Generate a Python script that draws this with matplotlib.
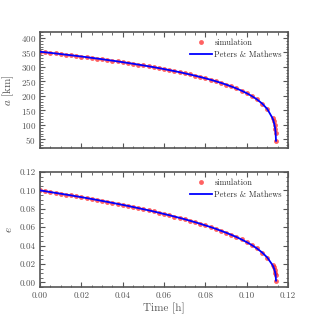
import numpy as np
import matplotlib
matplotlib.use("Agg")
import matplotlib.pyplot as plt
from matplotlib.ticker import MultipleLocator, AutoMinorLocator, FormatStrFormatter

# time [h] and orbital elements
time_h = [0.0, 0.0025, 0.005, 0.0075, 0.01, 0.0125, 0.015, 0.0175, 0.02, 0.0225,
          0.025, 0.0275, 0.03, 0.0325, 0.035, 0.0375, 0.04, 0.0425, 0.045, 0.0475,
          0.05, 0.0525, 0.055, 0.0575, 0.06, 0.0625, 0.065, 0.0675, 0.07, 0.0725,
          0.075, 0.0775, 0.08, 0.0825, 0.085, 0.0875, 0.09, 0.0925, 0.095, 0.0975,
          0.1, 0.1025, 0.105, 0.1075, 0.11, 0.1125, 0.113, 0.1135, 0.1138, 0.114, 0.1142]
a_km = [352.0, 350.1, 348.1, 346.1, 344.0, 341.9, 339.8, 337.7, 335.5, 333.2,
        330.9, 328.6, 326.2, 323.7, 321.2, 318.7, 316.0, 313.3, 310.6, 307.7,
        304.8, 301.8, 298.7, 295.5, 292.2, 288.7, 285.2, 281.5, 277.6, 273.6,
        269.4, 265.0, 260.4, 255.5, 250.3, 244.8, 238.8, 232.4, 225.4, 217.7,
        209.0, 199.1, 187.5, 173.2, 154.2, 123.0, 112.7, 98.5, 85.6, 72.0, 45.0]
ecc = [0.1, 0.0991, 0.0982, 0.0973, 0.0964, 0.0955, 0.0946, 0.0936, 0.0927, 0.0917,
       0.0907, 0.0897, 0.0886, 0.0876, 0.0865, 0.0854, 0.0843, 0.0832, 0.0820, 0.0808,
       0.0796, 0.0784, 0.0771, 0.0758, 0.0744, 0.0731, 0.0716, 0.0702, 0.0687, 0.0671,
       0.0655, 0.0638, 0.0620, 0.0602, 0.0583, 0.0562, 0.0541, 0.0518, 0.0494, 0.0467,
       0.0438, 0.0406, 0.0369, 0.0325, 0.0270, 0.0189, 0.0165, 0.0133, 0.0107, 0.0081, 0.002]

plt.rcParams['font.family'] = ['cmr10', 'DejaVu Serif']
plt.rcParams['mathtext.fontset'] = 'cm'
plt.rcParams['axes.formatter.use_mathtext'] = True
plt.rcParams['font.size'] = 6.5

spine_col = '#555555'
text_col = '#555555'

fig = plt.figure(figsize=(3.2, 3.2), dpi=100)
ax1 = fig.add_axes([0.125, 0.5375, 0.775, 0.3625])
ax2 = fig.add_axes([0.125, 0.103, 0.775, 0.3595])


def style(ax):
    for s in ax.spines.values():
        s.set_color(spine_col)
        s.set_linewidth(1.2)
    ax.tick_params(which='both', direction='in', top=True, right=True,
                   colors=spine_col, labelcolor=text_col, labelsize=6.5)
    ax.tick_params(which='major', length=3.5, width=0.8, pad=3)
    ax.tick_params(which='minor', length=1.8, width=0.6)
    ax.xaxis.set_major_locator(MultipleLocator(0.02))
    ax.xaxis.set_minor_locator(AutoMinorLocator(4))
    ax.set_xlim(0, 0.12)


for ax, vals in [(ax1, a_km), (ax2, ecc)]:
    ax.plot(time_h, vals, 'o', color='#ff2020', alpha=0.7, ms=3.5, mec='none',
            label='simulation', zorder=2)
    ax.plot(time_h, vals, '-', color='blue', lw=1.3, label='Peters & Mathews', zorder=3)
    style(ax)
    leg = ax.legend(loc='upper right', frameon=False, fontsize=6,
                    handlelength=2.6, handletextpad=0.3, borderaxespad=0.35,
                    labelspacing=0.5)
    for t in leg.get_texts():
        t.set_color('#333333')

ax1.set_ylim(20, 420)
ax1.yaxis.set_major_locator(MultipleLocator(50))
ax1.yaxis.set_minor_locator(AutoMinorLocator(5))
ax1.set_ylabel(r'$a$ [km]', color=text_col, fontsize=8, labelpad=3)
ax1.tick_params(labelbottom=False)

ax2.set_ylim(-0.005, 0.12)
ax2.yaxis.set_major_locator(MultipleLocator(0.02))
ax2.yaxis.set_minor_locator(AutoMinorLocator(4))
ax2.yaxis.set_major_formatter(FormatStrFormatter('%.2f'))
ax2.xaxis.set_major_formatter(FormatStrFormatter('%.2f'))
ax2.set_ylabel(r'$e$', color=text_col, fontsize=8, labelpad=4)
ax2.set_xlabel('Time [h]', color=text_col, fontsize=8, labelpad=2)

fig.savefig('out.png', dpi=100)
